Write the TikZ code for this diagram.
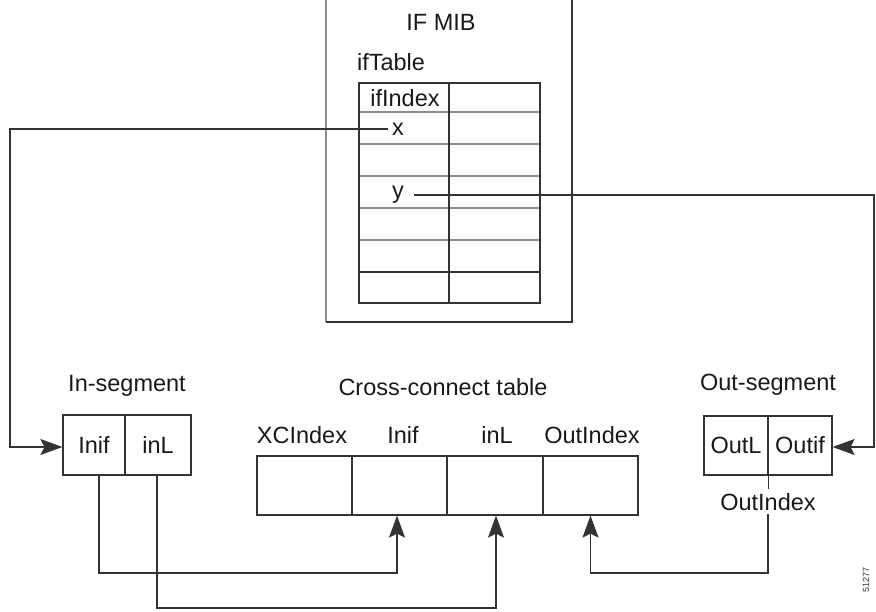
\documentclass[tikz,border=0pt]{standalone}
\usepackage{fontspec}
\setmainfont{Liberation Sans}
\usetikzlibrary{arrows.meta}
\tikzset{arr/.style={-{Stealth[length=22pt,width=16pt,inset=4pt]}}}
\begin{document}
\begin{tikzpicture}[x=1pt,y=-1pt,
  line width=1.2pt, draw=black!80,
  lbl/.style={font=\fontsize{23.5}{27}\selectfont, inner sep=0pt, text=black!90},
  cell/.style={draw, rectangle, inner sep=0pt, font=\fontsize{23.5}{27}\selectfont, text=black!90},
  grayrule/.style={draw=black!45, line width=2.4pt}]
\useasboundingbox (0,0) rectangle (876,611);
% IF MIB frame (top cut off)
\draw[draw=black!45, line width=2.4pt] (326,-2) -- (326,322);
\draw (326,322) -- (572,322) -- (572,-2);
\node[lbl] (mib) at (441,22) {IF MIB};
\node[lbl] (ift) at (391,62) {ifTable};
% ifTable
\draw[grayrule] (359,112) -- (540,112);
\draw[grayrule] (359,144) -- (540,144);
\draw[grayrule] (359,176) -- (540,176);
\draw[grayrule] (359,208) -- (540,208);
\draw[grayrule] (359,240) -- (540,240);
\draw (359,272) -- (540,272);
\draw (359,83) rectangle (540,303);
\draw (449,83) -- (449,303);
\node[lbl] (ifidx) at (405,98) {ifIndex};
\node[lbl] (xl) at (398,129) {x};
\node[lbl] (yl) at (398,195) {y};
% In-segment
\node[lbl] (inseg) at (127,386) {In-segment};
\node[cell, minimum width=62pt, minimum height=60pt] (inif) at (94,445) {Inif};
\node[cell, minimum width=66pt, minimum height=60pt] (inl) at (158,445) {inL};
% Cross-connect table
\node[lbl] (xct) at (443,387) {Cross-connect table};
\node[cell, minimum width=95pt, minimum height=59pt] (c1) at (304.5,485.5) {};
\node[cell, minimum width=95pt, minimum height=59pt] (c2) at (399.5,485.5) {};
\node[cell, minimum width=96pt, minimum height=59pt] (c3) at (495,485.5) {};
\node[cell, minimum width=95pt, minimum height=59pt] (c4) at (590.5,485.5) {};
\node[lbl] (h1) at (302,435) {XCIndex};
\node[lbl] (h2) at (403,435) {Inif};
\node[lbl] (h3) at (497,435) {inL};
\node[lbl] (h4) at (592,435) {OutIndex};
% Out-segment
\node[lbl] (outseg) at (768,385) {Out-segment};
\node[cell, minimum width=64pt, minimum height=59pt] (outl) at (736,445.5) {OutL};
\node[cell, minimum width=64pt, minimum height=59pt] (outif) at (800,445.5) {Outif};
\node[lbl] (oi) at (768,502) {OutIndex};
% connectors
\coordinate (lc) at (10,447);
\coordinate (rc) at (874,447);
\coordinate (ob) at (768,573);
\coordinate (ib1) at (99,573);
\coordinate (ib2) at (157,608);
\draw[arr] (xl.west) ++(-4,0) -| (lc) -- (inif.west |- lc);
\draw[arr] (yl.east) ++(10,0) -| (rc) -- (outif.east |- rc);
\draw[arr] (inif.south -| ib1) -- (ib1) -| ([xshift=-2.5pt]c2.south);
\draw[arr] (inl.south -| ib2) -- (ib2) -| ([xshift=1pt]c3.south);
\draw (outl.south east) -- ++(0,13);
\draw[arr] (oi.south) ++(0,3) -- (ob) -| (c4.south);
\node[font=\fontsize{9}{10}\selectfont, rotate=90, text=black!80, inner sep=1pt] (fig) at (866,580) {51277};
\end{tikzpicture}
\end{document}
